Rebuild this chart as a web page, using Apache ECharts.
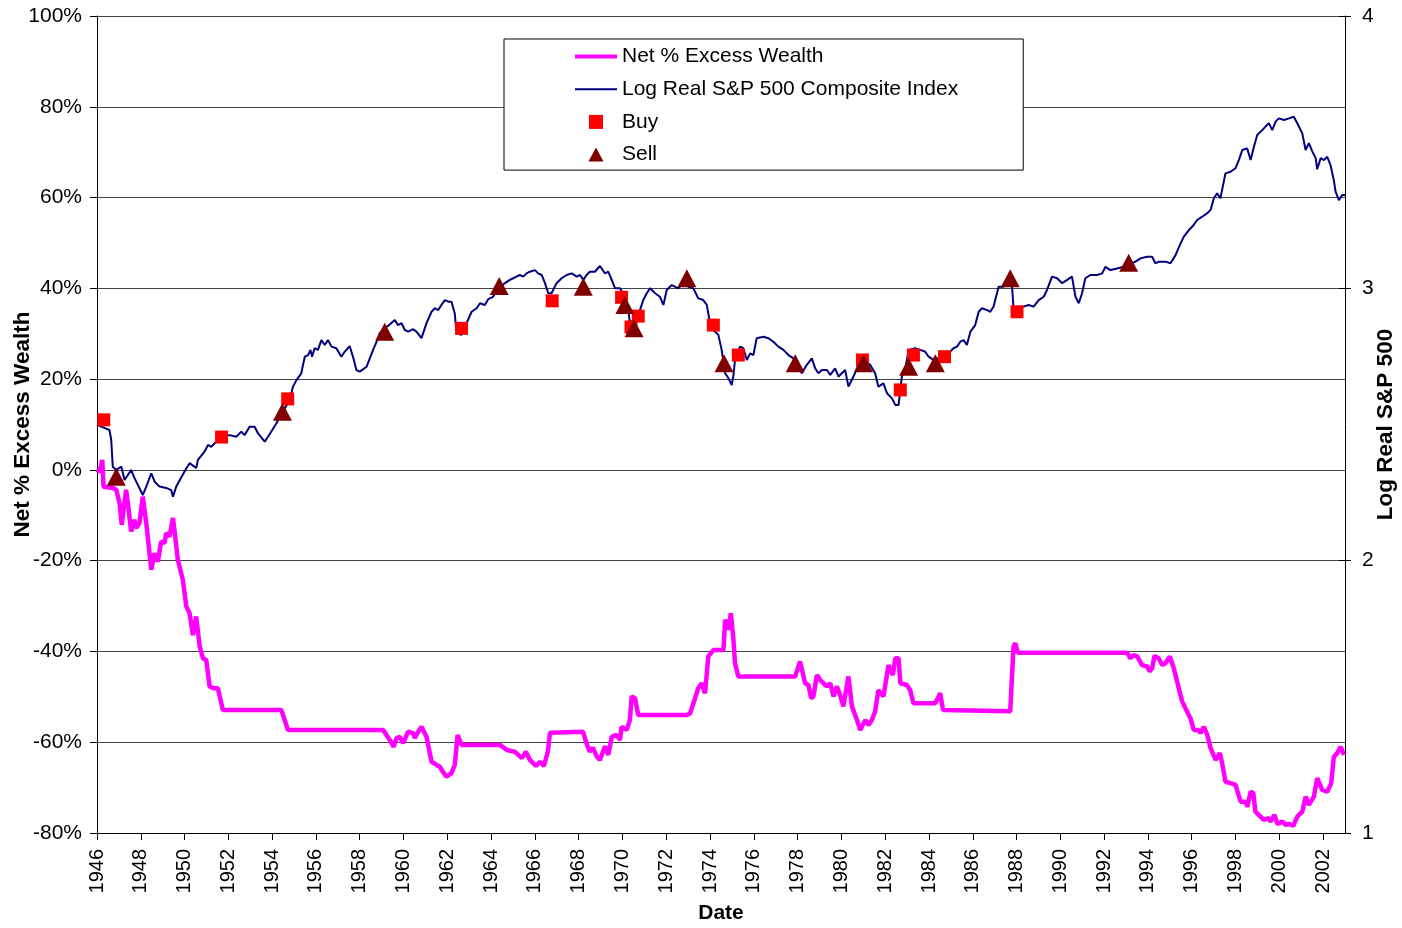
<!DOCTYPE html>
<html>
<head>
<meta charset="utf-8">
<script src="https://cdn.jsdelivr.net/npm/echarts@6/dist/echarts.min.js"></script>
<style>
  html, body { margin: 0; padding: 0; background: #fff; }
  #chart { width: 1402px; height: 928px; }
</style>
</head>
<body>
<div id="chart"></div>
<script>
// Net % Excess Wealth (left axis, %), [year, value]
const wealth = [
  [1946.00, 0.0], [1946.12, -0.4], [1946.24, 2.2], [1946.30, -3.7], [1946.72, -4.0], [1946.88, -4.4],
  [1947.03, -7.3], [1947.13, -12.1], [1947.23, -8.1], [1947.33, -4.4], [1947.41, -7.3], [1947.56, -13.6],
  [1947.71, -11.0], [1947.79, -12.8], [1947.94, -11.7], [1948.09, -5.9], [1948.25, -11.7], [1948.48, -22.0],
  [1948.63, -18.4], [1948.78, -20.2], [1948.93, -15.8], [1949.09, -16.1], [1949.16, -13.9], [1949.31, -14.7],
  [1949.47, -10.6], [1949.59, -15.4], [1949.69, -19.8], [1949.92, -24.2], [1950.08, -30.1], [1950.23, -31.6],
  [1950.38, -36.4], [1950.53, -32.3], [1950.69, -38.9], [1950.84, -41.5], [1950.99, -41.9], [1951.14, -47.7],
  [1951.33, -48.1], [1951.42, -48.5], [1951.52, -48.1], [1951.75, -52.9], [1954.42, -52.9], [1954.72, -57.3],
  [1959.07, -57.3], [1959.37, -59.5], [1959.55, -61.0], [1959.68, -59.1], [1959.83, -58.8], [1959.98, -60.2],
  [1960.21, -57.7], [1960.44, -58.0], [1960.51, -59.1], [1960.67, -57.7], [1960.82, -56.6], [1961.05, -58.8],
  [1961.28, -64.3], [1961.51, -65.0], [1961.66, -65.4], [1961.74, -66.1], [1961.96, -67.6], [1962.19, -66.8],
  [1962.34, -65.0], [1962.47, -58.4], [1962.65, -60.6], [1964.40, -60.6], [1964.72, -61.7], [1965.08, -62.1],
  [1965.41, -63.5], [1965.59, -62.1], [1965.77, -63.9], [1966.05, -65.2], [1966.23, -64.3], [1966.41, -65.2],
  [1966.59, -62.1], [1966.69, -57.9], [1966.78, -57.7], [1968.20, -57.7], [1968.38, -60.6], [1968.51, -62.1],
  [1968.65, -61.2], [1968.83, -63.2], [1968.97, -63.9], [1969.20, -60.9], [1969.35, -62.8], [1969.51, -58.8],
  [1969.73, -58.4], [1969.89, -59.5], [1969.96, -56.6], [1970.19, -57.3], [1970.34, -55.1], [1970.42, -49.9],
  [1970.57, -50.3], [1970.72, -54.0], [1972.94, -54.0], [1973.09, -53.6], [1973.24, -51.4], [1973.46, -48.1],
  [1973.62, -47.0], [1973.77, -49.2], [1973.92, -41.1], [1974.15, -39.7], [1974.61, -39.7], [1974.69, -33.0],
  [1974.84, -35.2], [1974.95, -31.6], [1975.07, -37.5], [1975.14, -42.6], [1975.29, -45.5], [1977.89, -45.5],
  [1978.11, -42.2], [1978.34, -47.0], [1978.49, -47.4], [1978.62, -50.3], [1978.72, -49.9], [1978.88, -45.2],
  [1979.03, -46.3], [1979.18, -47.0], [1979.34, -47.7], [1979.49, -47.0], [1979.64, -49.9], [1979.79, -47.7],
  [1979.94, -49.6], [1980.09, -52.1], [1980.32, -45.5], [1980.48, -52.1], [1980.71, -55.1], [1980.86, -57.3],
  [1981.09, -55.1], [1981.24, -56.2], [1981.39, -55.1], [1981.54, -53.2], [1981.69, -48.5], [1981.92, -49.9],
  [1982.15, -43.0], [1982.35, -45.2], [1982.46, -41.5], [1982.61, -41.5], [1982.69, -47.0], [1982.99, -47.4],
  [1983.14, -48.5], [1983.29, -51.4], [1984.29, -51.4], [1984.51, -49.2], [1984.64, -52.9], [1987.71, -53.2],
  [1987.86, -38.9], [1987.95, -38.2], [1988.05, -40.3], [1993.05, -40.3], [1993.20, -41.5], [1993.35, -40.8],
  [1993.51, -41.1], [1993.73, -43.0], [1993.96, -43.3], [1994.08, -44.4], [1994.19, -43.7], [1994.30, -41.0],
  [1994.49, -41.5], [1994.65, -43.0], [1994.80, -42.6], [1995.00, -41.1], [1995.18, -43.7], [1995.33, -46.6],
  [1995.56, -51.0], [1995.71, -52.5], [1995.94, -54.7], [1996.09, -57.3], [1996.32, -57.3], [1996.40, -58.0],
  [1996.55, -56.6], [1996.71, -58.4], [1996.86, -61.3], [1997.09, -63.9], [1997.28, -62.4], [1997.39, -64.6],
  [1997.54, -68.7], [1997.77, -69.0], [1998.00, -69.4], [1998.23, -73.1], [1998.46, -73.1], [1998.54, -74.2],
  [1998.69, -70.9], [1998.81, -71.2], [1998.91, -75.3], [1999.14, -76.4], [1999.29, -77.1], [1999.52, -76.7],
  [1999.60, -77.5], [1999.78, -76.0], [1999.91, -78.0], [2000.14, -77.5], [2000.29, -78.2], [2000.44, -78.0],
  [2000.64, -78.4], [2000.82, -76.4], [2001.05, -75.3], [2001.20, -72.0], [2001.35, -73.8], [2001.58, -72.0],
  [2001.73, -67.9], [2001.96, -70.5], [2002.19, -70.9], [2002.37, -69.0], [2002.49, -63.2], [2002.65, -62.4],
  [2002.80, -61.0], [2002.95, -62.8]
]

// Log Real S&P 500 Composite Index (right axis), [year, value]
const logSP = [
  [1946.00, 2.500], [1946.19, 2.492], [1946.57, 2.480], [1946.65, 2.443], [1946.72, 2.345], [1946.88, 2.333],
  [1947.11, 2.345], [1947.26, 2.296], [1947.56, 2.333], [1947.71, 2.304], [1948.09, 2.241], [1948.25, 2.272],
  [1948.48, 2.321], [1948.63, 2.290], [1948.86, 2.272], [1949.16, 2.267], [1949.39, 2.259], [1949.47, 2.235],
  [1949.62, 2.272], [1950.08, 2.339], [1950.23, 2.358], [1950.53, 2.340], [1950.61, 2.370], [1950.91, 2.400],
  [1951.07, 2.425], [1951.22, 2.418], [1951.37, 2.431], [1951.75, 2.455], [1952.06, 2.461], [1952.36, 2.455],
  [1952.59, 2.474], [1952.74, 2.461], [1952.97, 2.492], [1953.20, 2.492], [1953.35, 2.468], [1953.66, 2.437],
  [1953.81, 2.455], [1954.19, 2.504], [1954.49, 2.547], [1954.80, 2.590], [1954.95, 2.639], [1955.11, 2.663],
  [1955.33, 2.688], [1955.49, 2.749], [1955.64, 2.755], [1955.75, 2.774], [1955.82, 2.749], [1955.94, 2.780],
  [1956.09, 2.774], [1956.25, 2.810], [1956.40, 2.792], [1956.55, 2.810], [1956.71, 2.786], [1956.93, 2.780],
  [1957.16, 2.749], [1957.31, 2.767], [1957.54, 2.788], [1957.69, 2.749], [1957.85, 2.700], [1958.00, 2.694],
  [1958.31, 2.712], [1958.61, 2.774], [1958.84, 2.817], [1958.91, 2.835], [1959.14, 2.853], [1959.29, 2.862],
  [1959.60, 2.884], [1959.75, 2.865], [1959.91, 2.872], [1960.06, 2.847], [1960.21, 2.841], [1960.44, 2.850],
  [1960.59, 2.841], [1960.82, 2.817], [1961.05, 2.872], [1961.28, 2.914], [1961.43, 2.927], [1961.58, 2.920],
  [1961.73, 2.939], [1961.89, 2.957], [1962.04, 2.951], [1962.19, 2.951], [1962.34, 2.908], [1962.42, 2.835],
  [1962.65, 2.829], [1962.88, 2.872], [1963.11, 2.914], [1963.34, 2.927], [1963.49, 2.945], [1963.71, 2.939],
  [1963.87, 2.960], [1964.09, 2.969], [1964.32, 3.000], [1964.63, 3.019], [1964.86, 3.031], [1965.01, 3.037],
  [1965.16, 3.043], [1965.31, 3.049], [1965.47, 3.043], [1965.62, 3.055], [1965.77, 3.061], [1966.00, 3.067],
  [1966.15, 3.055], [1966.31, 3.049], [1966.46, 3.019], [1966.61, 2.982], [1966.76, 2.982], [1966.99, 3.019],
  [1967.22, 3.037], [1967.45, 3.049], [1967.68, 3.055], [1967.91, 3.043], [1968.06, 3.049], [1968.21, 3.031],
  [1968.36, 3.049], [1968.51, 3.061], [1968.74, 3.061], [1968.97, 3.082], [1969.20, 3.055], [1969.35, 3.061],
  [1969.51, 3.031], [1969.66, 3.000], [1969.89, 3.000], [1970.11, 2.969], [1970.27, 2.920], [1970.34, 2.872],
  [1970.49, 2.884], [1970.65, 2.902], [1970.80, 2.920], [1970.95, 2.957], [1971.11, 2.982], [1971.26, 3.000],
  [1971.49, 2.982], [1971.71, 2.969], [1971.87, 2.939], [1972.02, 2.994], [1972.25, 3.012], [1972.55, 3.000],
  [1972.78, 3.019], [1973.01, 3.006], [1973.24, 3.000], [1973.46, 2.963], [1973.69, 2.957], [1973.85, 2.939],
  [1974.00, 2.872], [1974.15, 2.847], [1974.38, 2.829], [1974.53, 2.774], [1974.69, 2.688], [1974.84, 2.670],
  [1974.99, 2.645], [1975.07, 2.682], [1975.14, 2.737], [1975.37, 2.786], [1975.52, 2.780], [1975.68, 2.737],
  [1975.83, 2.761], [1975.98, 2.755], [1976.13, 2.817], [1976.44, 2.822], [1976.66, 2.817], [1976.74, 2.822],
  [1976.89, 2.804], [1977.12, 2.786], [1977.35, 2.774], [1977.58, 2.755], [1977.81, 2.743], [1977.96, 2.725],
  [1978.19, 2.688], [1978.42, 2.719], [1978.65, 2.743], [1978.80, 2.706], [1978.95, 2.688], [1979.11, 2.700],
  [1979.34, 2.700], [1979.49, 2.682], [1979.71, 2.706], [1979.87, 2.676], [1980.02, 2.688], [1980.17, 2.700],
  [1980.32, 2.639], [1980.55, 2.676], [1980.78, 2.719], [1981.01, 2.737], [1981.31, 2.719], [1981.54, 2.688],
  [1981.69, 2.639], [1981.92, 2.651], [1982.08, 2.615], [1982.31, 2.596], [1982.46, 2.572], [1982.61, 2.572],
  [1982.76, 2.676], [1982.91, 2.700], [1983.07, 2.774], [1983.37, 2.780], [1983.60, 2.774], [1983.83, 2.767],
  [1983.98, 2.749], [1984.21, 2.737], [1984.44, 2.743], [1984.67, 2.743], [1984.89, 2.761], [1985.12, 2.780],
  [1985.28, 2.786], [1985.43, 2.804], [1985.58, 2.810], [1985.73, 2.792], [1985.89, 2.841], [1986.11, 2.865],
  [1986.27, 2.914], [1986.42, 2.927], [1986.65, 2.920], [1986.80, 2.914], [1986.95, 2.933], [1987.18, 3.006],
  [1987.41, 3.006], [1987.64, 3.031], [1987.71, 3.037], [1987.79, 3.012], [1987.86, 2.927], [1988.09, 2.927],
  [1988.32, 2.933], [1988.55, 2.939], [1988.78, 2.933], [1989.01, 2.957], [1989.24, 2.969], [1989.39, 2.994],
  [1989.62, 3.043], [1989.85, 3.037], [1990.08, 3.019], [1990.31, 3.031], [1990.53, 3.043], [1990.69, 2.969],
  [1990.84, 2.945], [1990.99, 2.982], [1991.14, 3.037], [1991.37, 3.049], [1991.68, 3.049], [1991.91, 3.055],
  [1992.06, 3.079], [1992.29, 3.067], [1992.59, 3.073], [1992.90, 3.079], [1993.12, 3.086], [1993.43, 3.098],
  [1993.66, 3.110], [1993.96, 3.116], [1994.19, 3.116], [1994.34, 3.092], [1994.49, 3.098], [1994.80, 3.098],
  [1995.03, 3.092], [1995.26, 3.122], [1995.49, 3.165], [1995.64, 3.190], [1995.87, 3.214], [1996.02, 3.226],
  [1996.25, 3.251], [1996.48, 3.263], [1996.71, 3.276], [1996.86, 3.288], [1997.01, 3.331], [1997.16, 3.349],
  [1997.31, 3.331], [1997.54, 3.422], [1997.77, 3.428], [1998.00, 3.441], [1998.15, 3.471], [1998.31, 3.508],
  [1998.53, 3.514], [1998.69, 3.471], [1998.84, 3.520], [1998.99, 3.563], [1999.22, 3.581], [1999.37, 3.594],
  [1999.52, 3.606], [1999.68, 3.581], [1999.83, 3.612], [1999.98, 3.624], [2000.21, 3.618], [2000.44, 3.624],
  [2000.66, 3.630], [2000.82, 3.606], [2001.05, 3.569], [2001.20, 3.508], [2001.35, 3.533], [2001.51, 3.502],
  [2001.66, 3.478], [2001.73, 3.437], [2001.89, 3.478], [2002.04, 3.471], [2002.19, 3.483], [2002.34, 3.452],
  [2002.49, 3.397], [2002.57, 3.355], [2002.72, 3.324], [2002.88, 3.343], [2003.00, 3.343]
]

// Buy signals (on the S&P line, right axis)
const buys = [
  [1946.31, 2.517], [1951.69, 2.454], [1954.71, 2.594], [1962.65, 2.853], [1966.79, 2.954],
  [1969.96, 2.967], [1970.39, 2.858], [1970.72, 2.898], [1974.15, 2.865], [1975.29, 2.755],
  [1980.96, 2.737], [1982.69, 2.627], [1983.29, 2.755], [1984.71, 2.749], [1988.02, 2.914]
]

// Sell signals (on the S&P line, right axis)
const sells = [
  [1946.88, 2.308], [1954.47, 2.547], [1959.14, 2.841], [1964.37, 3.009], [1968.21, 3.006],
  [1970.11, 2.939], [1970.53, 2.853], [1972.94, 3.037], [1974.64, 2.725], [1977.89, 2.725],
  [1981.01, 2.725], [1983.07, 2.712], [1984.29, 2.725], [1987.71, 3.037], [1993.12, 3.094]
]

const FONT = '"Liberation Sans", Arial, sans-serif'

const chart = echarts.init(document.getElementById('chart'))
chart.setOption({
  backgroundColor: '#ffffff',
  animation: false,
  textStyle: { fontFamily: FONT, color: '#000' },
  grid: { left: 97, right: 57, top: 16, bottom: 95, containLabel: false, outerBoundsMode: 'none' },
  legend: {
    orient: 'vertical',
    left: 504,
    top: 39,
    padding: [7, 65, 5, 71],
    itemGap: 11.7,
    itemWidth: 42,
    itemHeight: 14,
    backgroundColor: '#fff',
    borderColor: '#000',
    borderWidth: 1,
    borderRadius: 0,
    selectedMode: false,
    textStyle: { fontFamily: FONT, fontSize: 21, color: '#000', lineHeight: 21 },
    data: [
      { name: 'Net % Excess Wealth', icon: 'path://M0,0L42,0L42,4L0,4Z' },
      { name: 'Log Real S&P 500 Composite Index', icon: 'path://M0,0L42,0L42,2L0,2Z' },
      { name: 'Buy', icon: 'path://M0,0L12,0L12,12L0,12Z' },
      { name: 'Sell', icon: 'path://M7,0L14,13L0,13Z' }
    ]
  },
  xAxis: {
    type: 'value',
    min: 1946,
    max: 2003,
    interval: 2,
    name: 'Date',
    nameLocation: 'middle',
    nameGap: 70,
    nameMoveOverlap: false,
    nameTextStyle: { fontFamily: FONT, fontSize: 21, fontWeight: 'bold', color: '#000' },
    axisLine: { show: true, onZero: false, lineStyle: { color: '#000', width: 1 } },
    axisTick: { show: true, length: 7, lineStyle: { color: '#000' } },
    splitLine: { show: false },
    axisLabel: {
      rotate: 90,
      margin: 16,
      fontFamily: FONT,
      fontSize: 20,
      color: '#000',
      showMaxLabel: false,
      formatter: v => (v % 2 === 0 ? String(v) : '')
    }
  },
  yAxis: [
    {
      type: 'value',
      min: -80,
      max: 100,
      interval: 20,
      position: 'left',
      name: 'Net % Excess Wealth',
      nameLocation: 'middle',
      nameRotate: 90,
      nameGap: 63,
      nameMoveOverlap: false,
      nameTextStyle: { fontFamily: FONT, fontSize: 22.5, fontWeight: 'bold', color: '#000' },
      axisLine: { show: true, lineStyle: { color: '#000', width: 1 } },
      axisTick: { show: true, length: 7, lineStyle: { color: '#000' } },
      splitLine: { show: true, lineStyle: { color: '#444', width: 1 } },
      axisLabel: { margin: 15, fontFamily: FONT, fontSize: 21, color: '#000', formatter: '{value}%' }
    },
    {
      type: 'value',
      min: 1,
      max: 4,
      interval: 1,
      position: 'right',
      name: 'Log Real S&P 500',
      nameLocation: 'middle',
      nameRotate: 90,
      nameGap: 29,
      nameMoveOverlap: false,
      nameTextStyle: { fontFamily: FONT, fontSize: 22.5, fontWeight: 'bold', color: '#000' },
      axisLine: { show: true, lineStyle: { color: '#000', width: 1 } },
      axisTick: { show: true, inside: true, length: 6, lineStyle: { color: '#000' } },
      splitLine: { show: false },
      axisLabel: { margin: 17, fontFamily: FONT, fontSize: 21, color: '#000' }
    },
    {
      // same scale as the right axis, only to draw the outer half of its cross ticks
      type: 'value',
      min: 1,
      max: 4,
      interval: 1,
      position: 'right',
      axisLine: { show: false },
      axisTick: { show: true, inside: false, length: 6, lineStyle: { color: '#000' } },
      axisLabel: { show: false },
      splitLine: { show: false }
    }
  ],
  series: [
    {
      name: 'Net % Excess Wealth',
      type: 'line',
      yAxisIndex: 0,
      data: wealth,
      symbol: 'none',
      color: '#ff00ff',
      lineStyle: { color: '#ff00ff', width: 4.5 },
      z: 2
    },
    {
      name: 'Log Real S&P 500 Composite Index',
      type: 'line',
      yAxisIndex: 1,
      data: logSP,
      symbol: 'none',
      color: '#000080',
      lineStyle: { color: '#000080', width: 2 },
      z: 3
    },
    {
      name: 'Buy',
      type: 'scatter',
      yAxisIndex: 1,
      data: buys,
      symbol: 'rect',
      symbolSize: 13,
      itemStyle: { color: '#ff0000', opacity: 1 },
      z: 4
    },
    {
      name: 'Sell',
      type: 'scatter',
      yAxisIndex: 1,
      data: sells,
      symbol: 'triangle',
      symbolSize: [19, 18],
      itemStyle: { color: '#800000', opacity: 1 },
      z: 5
    }
  ]
})
</script>
</body>
</html>
